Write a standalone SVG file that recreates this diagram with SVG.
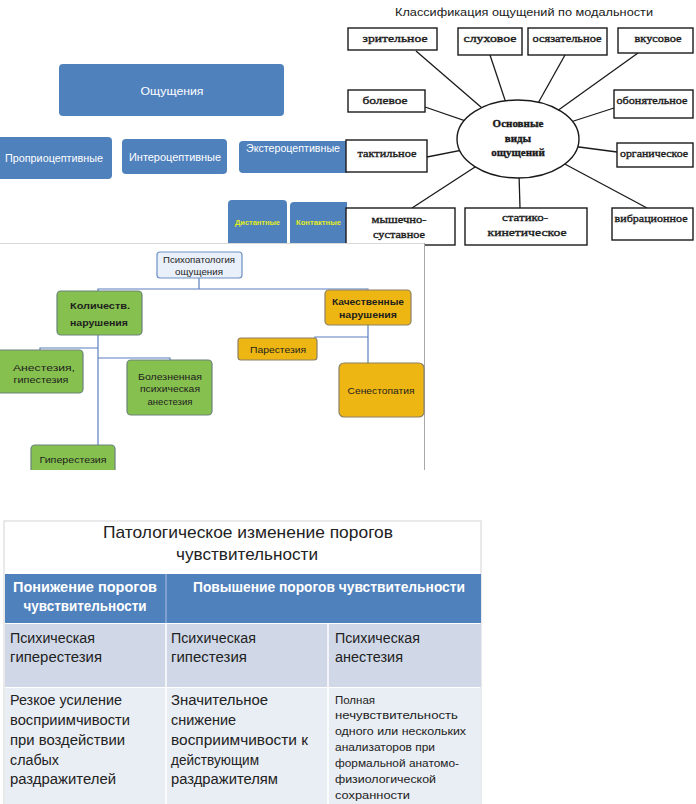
<svg xmlns="http://www.w3.org/2000/svg" width="696" height="804" viewBox="0 0 696 804">
<style>
text{dominant-baseline:central}
.sans{font-family:"Liberation Sans",Arial,sans-serif}
.ser{font-family:"Liberation Serif","Times New Roman",serif}
.bl{fill:#4f81bd}
.wt{fill:#fff;font-size:11px;text-anchor:middle}
.yl{fill:#e2ee1c;font-size:7.5px;font-weight:bold;text-anchor:middle}
.mbox{fill:#fff;stroke:#1a1a1a;stroke-width:1.4}
.mt{fill:#1a1a1a;font-size:11px;text-anchor:middle;stroke:#1a1a1a;stroke-width:0.35}
.ln{stroke:#1a1a1a;stroke-width:1.3;fill:none}
.cn{stroke:#5a7fbf;stroke-width:1.2;fill:none}
.gr{fill:#86c04e;stroke:#6a8278;stroke-width:1.2}
.or{fill:#eeb612;stroke:#8c8066;stroke-width:1.2}
.dt{fill:#1e1e1e;font-size:9.5px;text-anchor:middle}
.tb{fill:#222;font-size:14px}
.ts{fill:#222;font-size:11.3px}
</style>
<rect width="696" height="804" fill="#fff"/>

<!-- top-left panel -->
<g id="n_oshch"><rect x="59" y="64" width="225" height="52" rx="4" class="bl"/><text x="172" y="91" class="sans wt" font-size="12" textLength="63" lengthAdjust="spacingAndGlyphs">Ощущения</text></g>
<g id="n_proprio"><rect x="-4" y="137" width="116" height="42" rx="4" class="bl"/><text x="54" y="158" class="sans wt" textLength="98" lengthAdjust="spacingAndGlyphs">Проприоцептивные</text></g>
<g id="n_intero"><rect x="122" y="139" width="105" height="35" rx="4" class="bl"/><text x="175" y="157" class="sans wt" textLength="92" lengthAdjust="spacingAndGlyphs">Интероцептивные</text></g>
<g id="n_extero"><rect x="239" y="141" width="112" height="32" rx="4" class="bl"/><text x="293" y="148" class="sans wt" textLength="94" lengthAdjust="spacingAndGlyphs">Экстероцептивные</text></g>
<g id="n_dist"><rect x="228" y="200" width="59" height="48" rx="4" class="bl"/><text x="257.5" y="222" class="sans yl" textLength="45" lengthAdjust="spacingAndGlyphs">Дистантные</text></g>
<g id="n_kont"><rect x="290" y="202" width="61" height="46" rx="4" class="bl"/><text x="318.5" y="222" class="sans yl" textLength="45" lengthAdjust="spacingAndGlyphs">Контактные</text></g>

<!-- top-right panel -->
<rect x="347" y="0" width="349" height="243" fill="#fff"/>
<text x="524" y="12" class="sans" font-size="11" fill="#1a1a1a" text-anchor="middle" textLength="258" lengthAdjust="spacingAndGlyphs">Классификация ощущений по модальности</text>
<g id="connectors_mod">
<line x1="416" y1="51" x2="518" y2="139" class="ln"/>
<line x1="490" y1="55" x2="518" y2="139" class="ln"/>
<line x1="565" y1="55" x2="518" y2="139" class="ln"/>
<line x1="638" y1="53" x2="518" y2="139" class="ln"/>
<line x1="425" y1="107" x2="518" y2="139" class="ln"/>
<line x1="614" y1="108" x2="518" y2="139" class="ln"/>
<line x1="427" y1="157" x2="518" y2="139" class="ln"/>
<line x1="617" y1="152" x2="518" y2="139" class="ln"/>
<line x1="412" y1="208" x2="518" y2="139" class="ln"/>
<line x1="520" y1="208" x2="518" y2="139" class="ln"/>
<line x1="647" y1="208" x2="518" y2="139" class="ln"/>
</g>
<g id="n_center"><ellipse cx="518" cy="139" rx="61" ry="39" class="mbox"/>
<text x="518" y="123" class="ser mt" font-weight="bold">Основные</text>
<text x="518" y="138" class="ser mt" font-weight="bold">виды</text>
<text x="518" y="152" class="ser mt" font-weight="bold">ощущений</text></g>
<g id="n_zrit"><rect x="348" y="28" width="89" height="22" class="mbox"/><text x="395" y="38" class="ser mt" textLength="65" lengthAdjust="spacingAndGlyphs">зрительное</text></g>
<g id="n_sluh"><rect x="458" y="28" width="64" height="27" class="mbox"/><text x="490" y="38" class="ser mt" textLength="53" lengthAdjust="spacingAndGlyphs">слуховое</text></g>
<g id="n_osyaz"><rect x="528" y="28" width="79" height="27" class="mbox"/><text x="567" y="38" class="ser mt" textLength="69" lengthAdjust="spacingAndGlyphs">осязательное</text></g>
<g id="n_vkus"><rect x="618" y="28" width="75" height="25" class="mbox"/><text x="658" y="38" class="ser mt" textLength="47" lengthAdjust="spacingAndGlyphs">вкусовое</text></g>
<g id="n_bol"><rect x="348" y="90" width="77" height="22" class="mbox"/><text x="385" y="100" class="ser mt" textLength="45" lengthAdjust="spacingAndGlyphs">болевое</text></g>
<g id="n_obon"><rect x="614" y="90" width="79" height="28" class="mbox"/><text x="652" y="100" class="ser mt" textLength="71" lengthAdjust="spacingAndGlyphs">обонятельное</text></g>
<g id="n_takt"><rect x="346" y="140" width="81" height="32" class="mbox"/><text x="387" y="153" class="ser mt" textLength="59" lengthAdjust="spacingAndGlyphs">тактильное</text></g>
<g id="n_organ"><rect x="617" y="143" width="76" height="24" class="mbox"/><text x="654" y="153" class="ser mt" textLength="68" lengthAdjust="spacingAndGlyphs">органическое</text></g>
<g id="n_mysh"><rect x="346" y="208" width="109" height="37" class="mbox"/><text x="399" y="219" class="ser mt" textLength="55" lengthAdjust="spacingAndGlyphs">мышечно-</text><text x="399" y="234" class="ser mt" textLength="52" lengthAdjust="spacingAndGlyphs">суставное</text></g>
<g id="n_stat"><rect x="465" y="208" width="122" height="37" class="mbox"/><text x="525" y="217" class="ser mt" textLength="46" lengthAdjust="spacingAndGlyphs">статико-</text><text x="527" y="232" class="ser mt" textLength="79" lengthAdjust="spacingAndGlyphs">кинетическое</text></g>
<g id="n_vibr"><rect x="612" y="208" width="81" height="32" class="mbox"/><text x="651" y="218" class="ser mt" textLength="73" lengthAdjust="spacingAndGlyphs">вибрационное</text></g>

<!-- middle panel -->
<rect x="0" y="243" width="424" height="227" fill="#fff"/>
<line x1="0" y1="243.5" x2="424" y2="243.5" stroke="#d8d8d8"/>
<line x1="424.5" y1="243" x2="424.5" y2="470" stroke="#a8a8a8"/>
<g id="connectors_tree">
<polyline points="199,278 199,289" class="cn"/>
<polyline points="98,291 98,289 368,289 368,290" class="cn"/>
<polyline points="98,335 98,445" class="cn"/>
<polyline points="40,350 40,348 98,348" class="cn"/>
<polyline points="98,358 170,358 170,360" class="cn"/>
<polyline points="368,325 368,363" class="cn"/>
<polyline points="315,338 315,337 368,337" class="cn"/>
</g>
<g id="n_psych"><rect x="157" y="252" width="85" height="26" rx="3" fill="#e9f0f9" stroke="#6c8fc4" stroke-width="1.2"/>
<text x="199" y="259" class="sans dt" font-size="9" textLength="72" lengthAdjust="spacingAndGlyphs">Психопатология</text>
<text x="199" y="271" class="sans dt" font-size="9" textLength="48" lengthAdjust="spacingAndGlyphs">ощущения</text></g>
<g id="n_kolich"><rect x="57" y="291" width="85" height="44" rx="4" class="gr"/>
<text x="100" y="305" class="sans dt" font-weight="bold" textLength="60" lengthAdjust="spacingAndGlyphs">Количеств.</text>
<text x="99" y="322" class="sans dt" font-weight="bold" textLength="58" lengthAdjust="spacingAndGlyphs">нарушения</text></g>
<g id="n_kachestv"><rect x="325" y="290" width="86" height="35" rx="4" class="or"/>
<text x="368" y="301" class="sans dt" font-weight="bold" textLength="72" lengthAdjust="spacingAndGlyphs">Качественные</text>
<text x="368" y="314" class="sans dt" font-weight="bold" textLength="58" lengthAdjust="spacingAndGlyphs">нарушения</text></g>
<g id="n_anest"><rect x="-4" y="350" width="87" height="43" rx="4" class="gr"/>
<text x="44" y="367" class="sans dt" textLength="62" lengthAdjust="spacingAndGlyphs">Анестезия,</text>
<text x="41" y="379" class="sans dt" textLength="55" lengthAdjust="spacingAndGlyphs">гипестезия</text></g>
<g id="n_bolezn"><rect x="127" y="360" width="85" height="55" rx="4" class="gr"/>
<text x="170" y="376" class="sans dt" textLength="64" lengthAdjust="spacingAndGlyphs">Болезненная</text>
<text x="170" y="388" class="sans dt" textLength="60" lengthAdjust="spacingAndGlyphs">психическая</text>
<text x="170" y="401" class="sans dt" textLength="45" lengthAdjust="spacingAndGlyphs">анестезия</text></g>
<g id="n_giper"><rect x="31" y="445" width="84" height="32" rx="4" class="gr"/>
<text x="73" y="459" class="sans dt" textLength="67" lengthAdjust="spacingAndGlyphs">Гиперестезия</text></g>
<g id="n_parest"><rect x="238" y="338" width="79" height="22" rx="3" class="or"/>
<text x="278" y="349" class="sans dt" textLength="56" lengthAdjust="spacingAndGlyphs">Парестезия</text></g>
<g id="n_senest"><rect x="339" y="363" width="85" height="54" rx="5" class="or"/>
<text x="381" y="390" class="sans dt" textLength="67" lengthAdjust="spacingAndGlyphs">Сенестопатия</text></g>
<rect x="0" y="470" width="696" height="334" fill="#fff"/>

<!-- bottom table -->
<g id="table">
<rect x="4" y="521" width="477" height="290" fill="#fff" stroke="#d4d4d4"/>
<text x="248" y="532" class="sans" font-size="17" fill="#222" text-anchor="middle" textLength="290" lengthAdjust="spacingAndGlyphs">Патологическое изменение порогов</text>
<text x="247" y="554" class="sans" font-size="17" fill="#222" text-anchor="middle" textLength="142" lengthAdjust="spacingAndGlyphs">чувствительности</text>
<rect x="5" y="574" width="476" height="49" fill="#4f81bd"/>
<line x1="166" y1="574" x2="166" y2="623" stroke="#9fb6dc" stroke-width="1.2"/>
<text x="85" y="587" class="sans" font-size="14" font-weight="bold" fill="#fff" text-anchor="middle" textLength="144" lengthAdjust="spacingAndGlyphs">Понижение порогов</text>
<text x="85" y="606" class="sans" font-size="14" font-weight="bold" fill="#fff" text-anchor="middle" textLength="123" lengthAdjust="spacingAndGlyphs">чувствительности</text>
<text x="193" y="587" class="sans" font-size="14" font-weight="bold" fill="#fff" textLength="272" lengthAdjust="spacingAndGlyphs">Повышение порогов чувствительности</text>
<rect x="5" y="624" width="476" height="63" fill="#d0d8e8"/>
<rect x="5" y="688" width="476" height="116" fill="#e9edf4"/>
<line x1="166" y1="624" x2="166" y2="804" stroke="#fff" stroke-width="1.5"/>
<line x1="328" y1="624" x2="328" y2="804" stroke="#fff" stroke-width="1.5"/>
<text x="10" y="638" class="sans tb" textLength="85" lengthAdjust="spacingAndGlyphs">Психическая</text>
<text x="10" y="657" class="sans tb" textLength="92" lengthAdjust="spacingAndGlyphs">гиперестезия</text>
<text x="171" y="638" class="sans tb" textLength="85" lengthAdjust="spacingAndGlyphs">Психическая</text>
<text x="171" y="657" class="sans tb" textLength="76" lengthAdjust="spacingAndGlyphs">гипестезия</text>
<text x="335" y="638" class="sans tb" textLength="85" lengthAdjust="spacingAndGlyphs">Психическая</text>
<text x="335" y="657" class="sans tb" textLength="68" lengthAdjust="spacingAndGlyphs">анестезия</text>
<text x="10" y="700" class="sans tb" textLength="112" lengthAdjust="spacingAndGlyphs">Резкое усиление</text>
<text x="10" y="720" class="sans tb" textLength="120" lengthAdjust="spacingAndGlyphs">восприимчивости</text>
<text x="10" y="740" class="sans tb" textLength="115" lengthAdjust="spacingAndGlyphs">при воздействии</text>
<text x="10" y="760" class="sans tb" textLength="49" lengthAdjust="spacingAndGlyphs">слабых</text>
<text x="10" y="779" class="sans tb" textLength="106" lengthAdjust="spacingAndGlyphs">раздражителей</text>
<text x="171" y="700" class="sans tb" textLength="97" lengthAdjust="spacingAndGlyphs">Значительное</text>
<text x="171" y="720" class="sans tb" textLength="65" lengthAdjust="spacingAndGlyphs">снижение</text>
<text x="171" y="740" class="sans tb" textLength="137" lengthAdjust="spacingAndGlyphs">восприимчивости к</text>
<text x="171" y="760" class="sans tb" textLength="88" lengthAdjust="spacingAndGlyphs">действующим</text>
<text x="171" y="779" class="sans tb" textLength="107" lengthAdjust="spacingAndGlyphs">раздражителям</text>
<text x="335" y="700" class="sans ts" textLength="40" lengthAdjust="spacingAndGlyphs">Полная</text>
<text x="335" y="715" class="sans ts" textLength="123" lengthAdjust="spacingAndGlyphs">нечувствительность</text>
<text x="335" y="731" class="sans ts" textLength="131" lengthAdjust="spacingAndGlyphs">одного или нескольких</text>
<text x="335" y="747" class="sans ts" textLength="100" lengthAdjust="spacingAndGlyphs">анализаторов при</text>
<text x="335" y="763" class="sans ts" textLength="124" lengthAdjust="spacingAndGlyphs">формальной анатомо-</text>
<text x="335" y="779" class="sans ts" textLength="101" lengthAdjust="spacingAndGlyphs">физиологической</text>
<text x="335" y="795" class="sans ts" textLength="75" lengthAdjust="spacingAndGlyphs">сохранности</text>
</g>
</svg>
